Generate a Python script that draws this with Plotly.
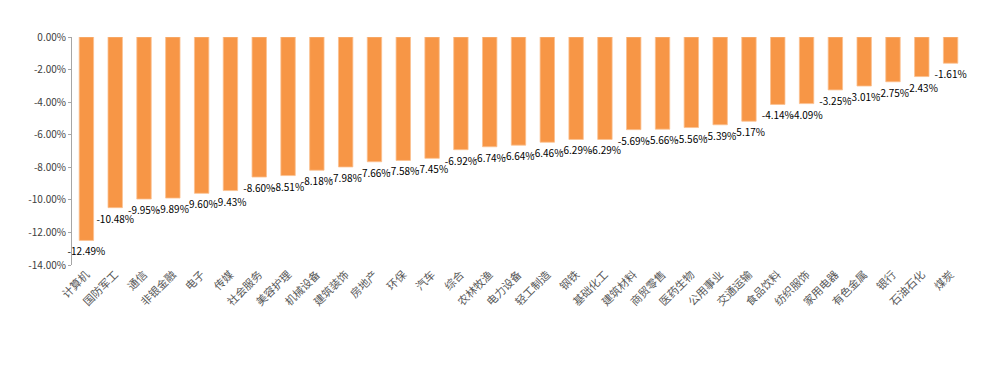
import plotly.graph_objects as go

categories = ["计算机", "国防军工", "通信", "非银金融", "电子", "传媒", "社会服务", "美容护理",
              "机械设备", "建筑装饰", "房地产", "环保", "汽车", "综合", "农林牧渔", "电力设备",
              "轻工制造", "钢铁", "基础化工", "建筑材料", "商贸零售", "医药生物", "公用事业",
              "交通运输", "食品饮料", "纺织服饰", "家用电器", "有色金属", "银行", "石油石化", "煤炭"]
values = [-12.49, -10.48, -9.95, -9.89, -9.60, -9.43, -8.60, -8.51, -8.18, -7.98, -7.66, -7.58,
          -7.45, -6.92, -6.74, -6.64, -6.46, -6.29, -6.29, -5.69, -5.66, -5.56, -5.39, -5.17,
          -4.14, -4.09, -3.25, -3.01, -2.75, -2.43, -1.61]
y_ticks = [0, -2, -4, -6, -8, -10, -12, -14]

font_family = "Noto Sans CJK SC"

fig = go.Figure(go.Bar(
    x=categories,
    y=values,
    marker=dict(color="#F79646", line=dict(color="#FBC08F", width=0.8)),
    width=0.5,
    text=[f"{v:.2f}%" for v in values],
    textposition="outside",
    textfont=dict(size=10, color="#000000", family=font_family),
    constraintext="none",
    cliponaxis=False,
))

# page body has an 8px default margin, so the figure is sized/offset to compensate
fig.update_layout(
    width=966, height=354,
    margin=dict(l=64, r=9, t=29, b=97),
    paper_bgcolor="white", plot_bgcolor="white",
    showlegend=False,
    bargap=0.5,
    font=dict(family=font_family),
)
fig.update_yaxes(
    range=[-14, 0],
    tickvals=y_ticks,
    ticktext=[f"{v:.2f}%" for v in y_ticks],
    showgrid=False, zeroline=False,
    showline=True, linecolor="#A6A6A6", linewidth=1,
    ticks="outside", ticklen=3, tickcolor="#A6A6A6",
    tickfont=dict(size=10, color="#404040", family=font_family),
    automargin=False,
)
fig.update_xaxes(
    showgrid=False, showline=False, zeroline=False,
    tickangle=-45,
    tickfont=dict(size=11, color="#595959", family=font_family),
    anchor="free", position=0,
    automargin=False,
)
fig.write_html("out.html")
